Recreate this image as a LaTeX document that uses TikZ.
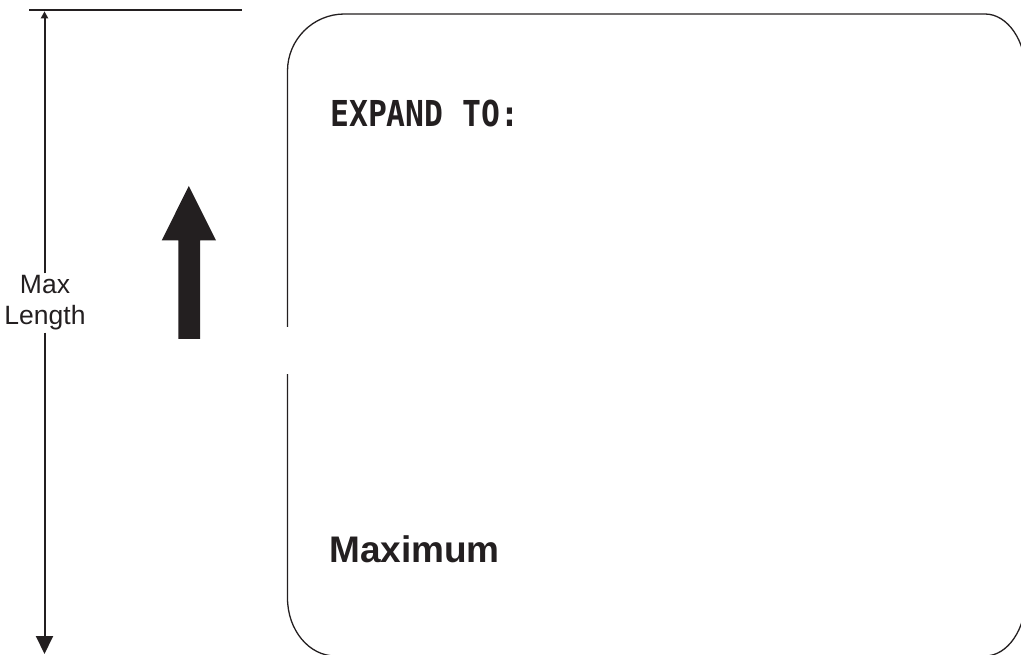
\documentclass[tikz,border=0pt]{standalone}
\usepackage{fontspec}
\setmainfont{Liberation Sans}
\newfontfamily\monobold{DejaVu Sans Mono}[BoldFont={DejaVu Sans Mono Bold}]
\usetikzlibrary{arrows.meta}
\definecolor{ink}{HTML}{231F20}
\begin{document}
\begin{tikzpicture}[x=1pt,y=-1pt,
  dimline/.style={draw=ink,line width=2pt},
  boxline/.style={draw=ink,line width=1.3pt},
  lbl/.style={text=ink,inner sep=0pt}]
\useasboundingbox (0,0) rectangle (1021,655);
\clip (0,0) rectangle (1021,655);
% top limit line
\coordinate (limA) at (29,10);
\coordinate (limB) at (242,10);
\draw[ink,line width=2.6pt] (limA) -- (limB);
% dimension line
\coordinate (dimTop) at (44.5,11.3);
\coordinate (dimBot) at (44.5,654);
\node[lbl,align=center,font=\fontsize{26.5}{31}\selectfont,inner ysep=2pt] (maxlen) at (45,303) {Max\\Length};
\draw[dimline,-{Triangle[length=7pt,width=7pt]}] (maxlen.north -| dimTop) -- (dimTop);
\draw[dimline,-{Triangle[length=18pt,width=17pt]}] (maxlen.south -| dimBot) -- (dimBot);
% big arrow
\fill[ink] (178.3,339) -- (178.3,240.5) -- (161.7,240.5) -- (188.8,186) -- (216,240.5) -- (200,240.5) -- (200,339) -- cycle;
% rounded box (its right side lies outside the picture)
\draw[boxline] (287.5,327) -- (287.5,71) arc[start angle=180,end angle=270,radius=57]
  -- (985,14) arc[start angle=270,end angle=360,x radius=41,y radius=60]
  -- (1060,74) -- (1060,596) -- (1026,596)
  arc[start angle=0,end angle=90,x radius=41,y radius=60]
  -- (335.5,656) arc[start angle=90,end angle=180,x radius=48,y radius=58]
  -- (287.5,374);
% texts
\node[lbl,anchor=base west,xscale=0.88,font=\monobold\bfseries\fontsize{35.7}{40}\selectfont] (expand) at (330,127) {EXPAND TO:};
\node[lbl,anchor=base west,font=\bfseries\fontsize{37}{44}\selectfont] (maximum) at (329,562.7) {Maximum};
\end{tikzpicture}
\end{document}
